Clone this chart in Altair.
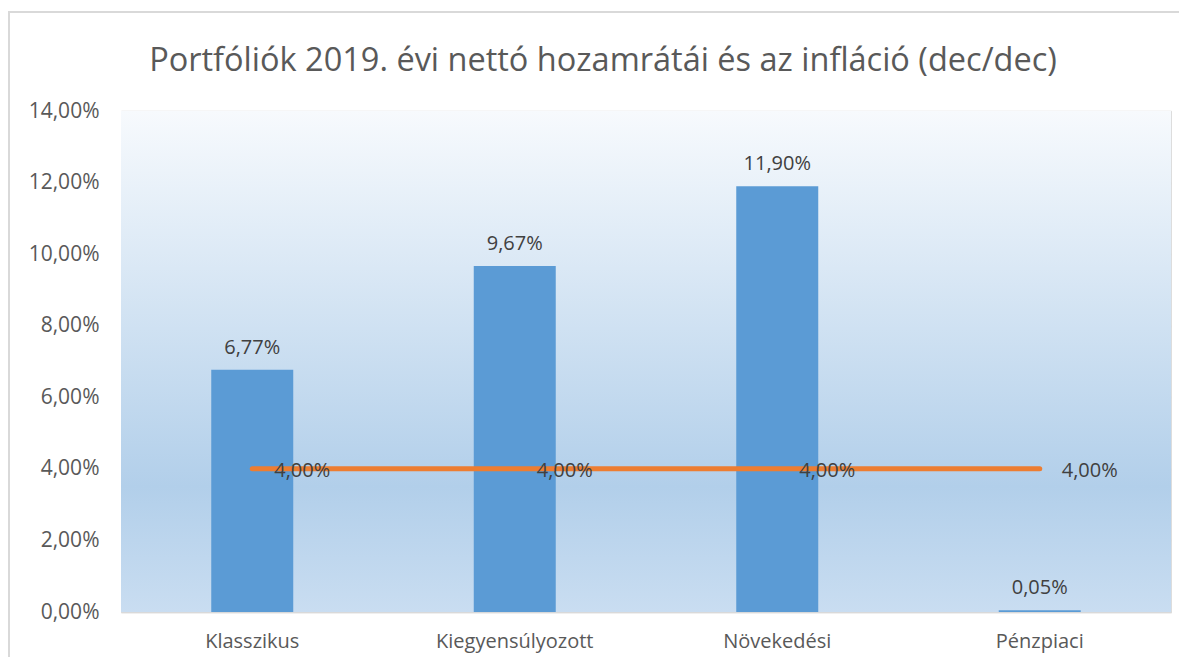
import altair as alt
import pandas as pd

categories = ["Klasszikus", "Kiegyensúlyozott", "Növekedési", "Pénzpiaci"]
returns = [0.0677, 0.0967, 0.1190, 0.0005]
inflation = [0.04, 0.04, 0.04, 0.04]
y_ticks = [0, 0.02, 0.04, 0.06, 0.08, 0.10, 0.12, 0.14]
title_text = ["Portfóliók 2019. évi nettó hozamrátái és az infláció (dec/dec)"]

df = pd.DataFrame({"cat": categories, "ret": returns, "inf": inflation})
tdf = pd.DataFrame({"t": title_text})

W, H = 1050, 501
FONT = "Open Sans"
FS = 20

xenc = alt.X("cat:N", sort=categories, title=None,
             scale=alt.Scale(paddingInner=0, paddingOuter=0),
             axis=alt.Axis(labelAngle=0, labelFontSize=FS, labelColor="#595959",
                           labelFont=FONT, labelPadding=19, ticks=False,
                           domain=True, domainColor="#D9D9D9", domainWidth=1.5, grid=False))
yscale = alt.Scale(domain=[0, 0.14], nice=False)
yenc_axis = alt.Axis(values=y_ticks, labelExpr="replace(format(datum.value, '.2%'), '.', ',')",
                     labelFontSize=21, labelColor="#595959", labelFont=FONT, labelPadding=22,
                     ticks=False, domain=False, grid=True, gridColor="#D9D9D9", gridWidth=1.5,
                     title=None)

grad = alt.Gradient(gradient="linear", x1=0, x2=0, y1=0, y2=1,
                    stops=[alt.GradientStop(color="#F7FAFD", offset=0),
                           alt.GradientStop(color="#B2CFEA", offset=0.75),
                           alt.GradientStop(color="#C9DDF1", offset=1)])

bg = alt.Chart(df).mark_rect(color=grad).encode(
    x=alt.value(0), x2=alt.value(W), y=alt.value(0), y2=alt.value(H))

border = alt.Chart(df).mark_rect(fill=None, stroke="#D9D9D9", strokeWidth=1.5).encode(
    x=alt.value(-112), x2=alt.value(W + 80), y=alt.value(-99), y2=alt.value(H + 120))

title = alt.Chart(tdf).mark_text(fontSize=32.5, font=FONT, color="#595959",
                                 align="center", baseline="middle").encode(
    x=alt.value(W / 2 - 43), y=alt.value(-50), text="t:N")

bars = alt.Chart(df).mark_bar(size=82, color="#5B9BD5").encode(
    x=xenc,
    y=alt.Y("ret:Q", scale=yscale, axis=yenc_axis),
)

bar_labels = alt.Chart(df).transform_calculate(
    lbl="replace(format(datum.ret, '.2%'), '.', ',')"
).mark_text(baseline="bottom", dy=-12, fontSize=FS, color="#404040", font=FONT).encode(
    x=alt.X("cat:N", sort=categories),
    y=alt.Y("ret:Q", scale=yscale),
    text="lbl:N",
)

line = alt.Chart(df).mark_line(color="#ED7D31", strokeWidth=5, strokeCap="round").encode(
    x=alt.X("cat:N", sort=categories),
    y=alt.Y("inf:Q", scale=yscale),
)

line_labels = alt.Chart(df).transform_calculate(
    lbl="replace(format(datum.inf, '.2%'), '.', ',')"
).mark_text(align="left", baseline="middle", dx=22, dy=2, fontSize=FS, color="#404040", font=FONT).encode(
    x=alt.X("cat:N", sort=categories),
    y=alt.Y("inf:Q", scale=yscale),
    text="lbl:N",
)

chart = alt.layer(border, bg, bars, line, bar_labels, line_labels, title).properties(
    width=W, height=H,
    autosize=alt.AutoSizeParams(type="none"),
    padding={"left": 113, "top": 103, "right": 8, "bottom": 45},
).configure_view(stroke=None).configure(background="white")

chart.save("out.html", embed_options={"renderer": "svg", "actions": False})
